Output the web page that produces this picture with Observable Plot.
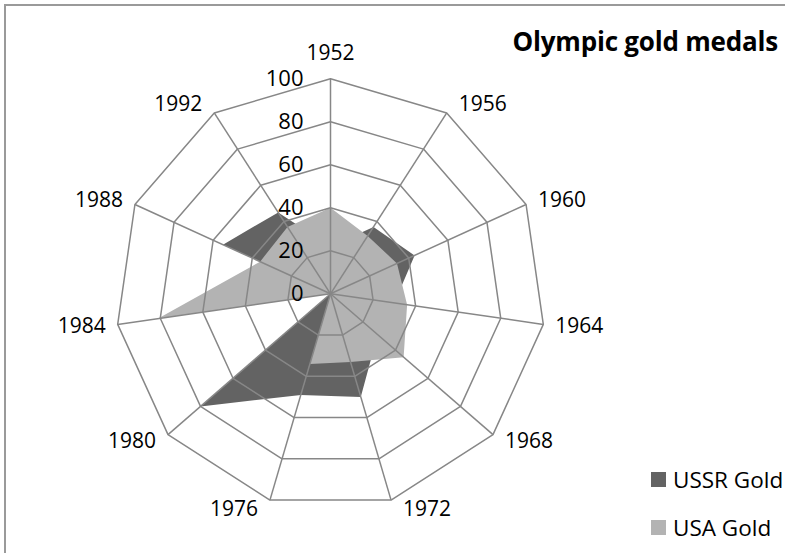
<!DOCTYPE html>
<html>
<head>
<meta charset="utf-8">
<script src="https://cdn.jsdelivr.net/npm/d3@7"></script>
<script src="https://cdn.jsdelivr.net/npm/@observablehq/plot@0.6"></script>
<style>
  html, body { margin: 0; padding: 0; background: #fff; }
  #wrap { position: relative; width: 785px; height: 553px; overflow: hidden; font-family: "Open Sans", sans-serif; }
  #frame { position: absolute; left: 4px; top: 4px; width: 800px; height: 600px; border-left: 2px solid #9a9a9a; border-top: 2px solid #9a9a9a; }
  #chart { position: absolute; left: 0; top: 0; }
  #title { position: absolute; right: 7px; top: 23px; font-size: 26px; font-weight: 700; color: #000; white-space: nowrap; line-height: normal; letter-spacing: -0.2px; }
  .leg { position: absolute; left: 651px; display: flex; align-items: center; white-space: nowrap; font-size: 22.5px; color: #000; }
  .sw { width: 15px; height: 15px; margin-right: 7px; }
</style>
</head>
<body>
<div id="wrap">
  <div id="frame"></div>
  <div id="chart"></div>
  <div id="title">Olympic gold medals</div>
  <div id="legend"></div>
</div>
<script>
// ---- data ----
const years = ["1952","1956","1960","1964","1968","1972","1976","1980","1984","1988","1992"];
const ussrGold = [22, 37, 43, 30, 29, 50, 49, 80, 0, 55, 45];
const usaGold  = [40, 32, 34, 36, 45, 33, 34, 0, 81, 36, 37];
const ticks = [0, 20, 40, 60, 80, 100];
const seriesNames = ["USSR Gold", "USA Gold"];
const seriesColors = ["#636363", "#b3b3b3"];

// ---- layout ----
const W = 785, H = 553;
const cx = 330, cy = 293.3, k = 2.15; // px per unit
const n = years.length;
const ang = i => i * 2 * Math.PI / n;
const pt = (v, i) => ({x: v * Math.sin(ang(i)), y: v * Math.cos(ang(i))});

const poly = vals => vals.map((v, i) => ({...pt(v, i), i}));
const rings = ticks.filter(t => t > 0).flatMap(l => years.map((y, i) => ({...pt(l, i), level: l})));
const spokes = years.map((y, i) => pt(100, i));

const labels = years.map((y, i) => {
  const a = ang(i), s = Math.sin(a), c = Math.cos(a);
  const p = pt(100, i);
  if (Math.abs(s) < 0.1) return {x: p.x, y: p.y + 26 / k, text: y, anchor: "middle"};
  return {x: p.x + Math.sign(s) * 12 / k, y: p.y + 10 * c / k, text: y, anchor: s > 0 ? "start" : "end"};
});

const labelMark = anchor => Plot.text(labels.filter(d => d.anchor === anchor),
  {x: "x", y: "y", text: "text", textAnchor: anchor, fontSize: 21, fill: "#000"});

const plot = Plot.plot({
  width: W, height: H,
  margin: 0,
  x: {domain: [-cx / k, (W - cx) / k], range: [0, W], axis: null},
  y: {domain: [-(H - cy) / k, cy / k], range: [H, 0], axis: null},
  style: {fontFamily: "'Open Sans', sans-serif", background: "transparent"},
  marks: [
    Plot.line(poly(ussrGold), {x: "x", y: "y", curve: "linear-closed", fill: seriesColors[0], stroke: "none"}),
    Plot.line(poly(usaGold), {x: "x", y: "y", curve: "linear-closed", fill: seriesColors[1], stroke: "none"}),
    Plot.link(spokes, {x1: 0, y1: 0, x2: "x", y2: "y", stroke: "#878787", strokeWidth: 1.5}),
    Plot.line(rings, {x: "x", y: "y", z: "level", curve: "linear-closed", stroke: "#878787", strokeWidth: 1.5}),
    Plot.text(ticks, {x: -27 / k, y: d => d, text: d => String(d), textAnchor: "end", fontSize: 22, fill: "#000"}),
    labelMark("start"),
    labelMark("end"),
    labelMark("middle")
  ]
});
document.getElementById("chart").appendChild(plot);

const legend = document.getElementById("legend");
const legTops = [463.5, 511.5];
seriesNames.forEach((name, j) => {
  const d = document.createElement("div");
  d.className = "leg";
  d.style.top = legTops[j] + "px";
  d.innerHTML = `<span class="sw" style="background:${seriesColors[j]}"></span><span>${name}</span>`;
  legend.appendChild(d);
});
</script>
</body>
</html>
